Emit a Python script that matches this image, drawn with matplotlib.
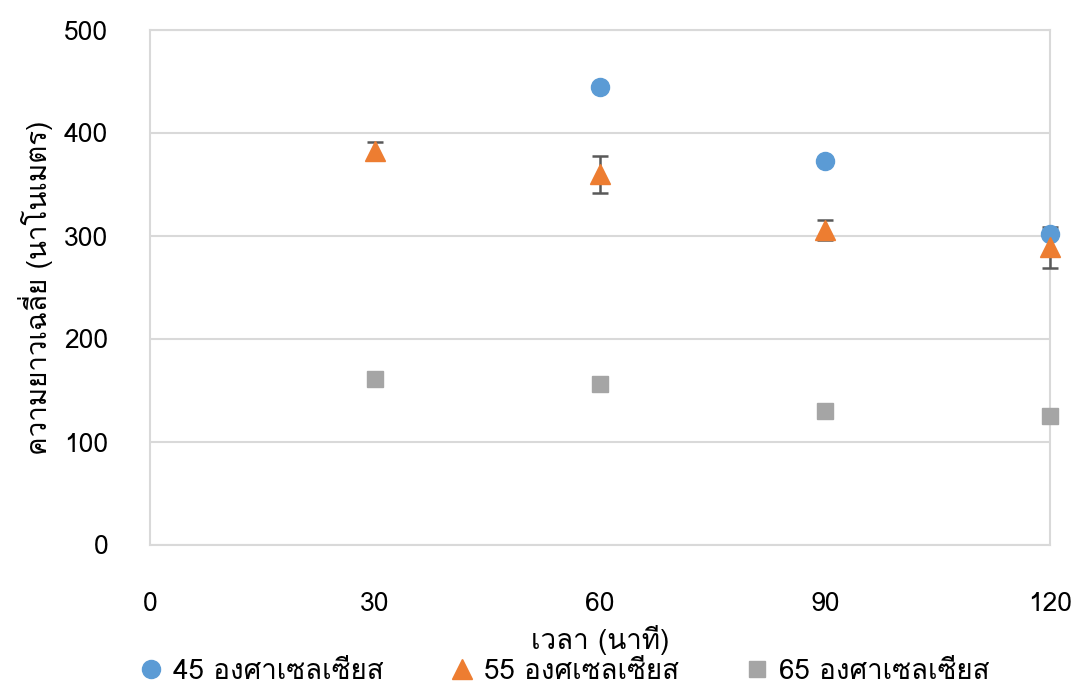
import matplotlib
matplotlib.use("Agg")
import matplotlib.pyplot as plt
from matplotlib import font_manager
from matplotlib.ft2font import FT2Font
from matplotlib.lines import Line2D

# time (minutes) and mean length (nm) for each temperature
time_min = [30, 60, 90, 120]
len_45 = [None, 445, 373, 302]
len_55 = [383, 360, 306, 289]
err_55 = [8, 18, 10, 20]
len_65 = [161, 156, 130, 125]

labels = ["45 องศาเซลเซียส", "55 องศเซลเซียส", "65 องศาเซลเซียส"]
colors = ["#5B9BD5", "#ED7D31", "#A5A5A5"]
xlabel = "เวลา (นาที)"
ylabel = "ความยาวเฉลี่ย (นาโนเมตร)"
xticks = [0, 30, 60, 90, 120]
yticks = [0, 100, 200, 300, 400, 500]


def pick_thai_font():
    # first installed family that actually carries Thai glyphs
    for f in font_manager.fontManager.ttflist:
        try:
            cmap = FT2Font(f.fname).get_charmap()
        except Exception:
            continue
        if 0x0E07 in cmap and 0x0E40 in cmap:
            return f.name
    return "DejaVu Sans"


thai = pick_thai_font()
plt.rcParams["font.family"] = [thai, "DejaVu Sans"]
plt.rcParams["font.size"] = 19

fig = plt.figure(figsize=(10.83, 6.9), dpi=100)
ax = fig.add_axes([150 / 1083, 145 / 690, 900 / 1083, 515 / 690])

x45 = [t for t, v in zip(time_min, len_45) if v is not None]
y45 = [v for v in len_45 if v is not None]
ax.plot(x45, y45, "o", color=colors[0], markersize=13, linestyle="none",
        zorder=3, clip_on=False)
line55, caps55, bars55 = ax.errorbar(
    time_min, len_55, yerr=err_55, fmt="^", color=colors[1], markersize=14,
    ecolor="#595959", elinewidth=1.8, capsize=6, capthick=1.8)
# error bars sit beneath every marker, triangles on top
line55.set_zorder(4)
line55.set_clip_on(False)
for art in list(caps55) + list(bars55):
    art.set_zorder(2)
    art.set_clip_on(False)
ax.plot(time_min, len_65, "s", color=colors[2], markersize=12, linestyle="none",
        zorder=3, clip_on=False)

ax.set_xlim(0, 120)
ax.set_ylim(0, 500)
ax.set_xticks(xticks)
ax.set_yticks(yticks)
ax.tick_params(axis="both", length=0, colors="black")
ax.tick_params(axis="x", pad=34)
ax.tick_params(axis="y", pad=30)
ax.grid(True, axis="y", color="#D9D9D9", linewidth=1.5, zorder=0)
ax.set_axisbelow(True)
for side in ["left", "right", "top", "bottom"]:
    ax.spines[side].set_color("#D9D9D9")
    ax.spines[side].set_linewidth(1.5)
    ax.spines[side].set_zorder(0.5)

ax.set_xlabel(xlabel, labelpad=6, fontsize=20)
ax.set_ylabel(ylabel, labelpad=8, fontsize=20)

handles = [
    Line2D([], [], marker="o", color=colors[0], markersize=13, linestyle="none"),
    Line2D([], [], marker="^", color=colors[1], markersize=14, linestyle="none"),
    Line2D([], [], marker="s", color=colors[2], markersize=12, linestyle="none"),
]
fig.legend(handles, labels, loc="center", ncol=3, frameon=False,
           bbox_to_anchor=(0.52, 18 / 690), handletextpad=0.3,
           columnspacing=2.3, handlelength=1.0, fontsize=20,
           borderpad=0, borderaxespad=0)

fig.savefig("out.png", dpi=100)
